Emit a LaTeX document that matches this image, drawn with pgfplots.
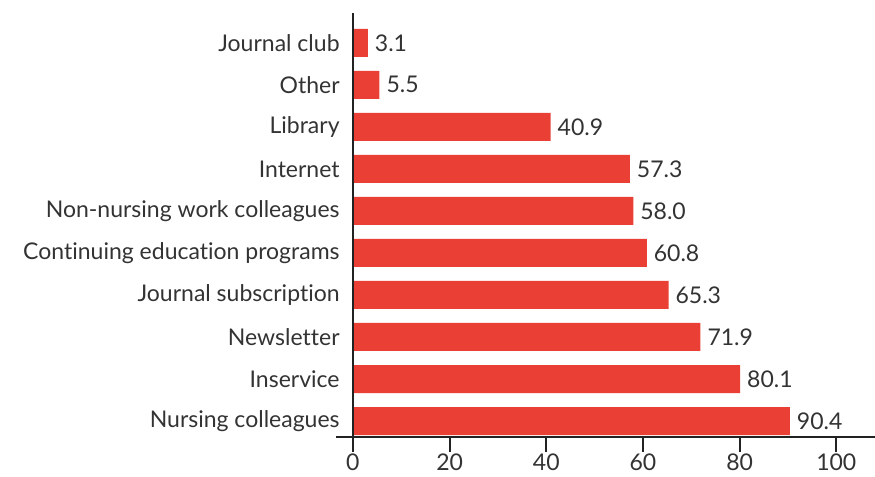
\documentclass[border=0pt]{standalone}
\usepackage{fontspec}
\setmainfont{Lato}[Ligatures=NoCommon]
\usepackage{pgfplots}
\pgfplotsset{compat=1.18}
\definecolor{barred}{HTML}{EA3F35}
\definecolor{txt}{HTML}{333333}
\definecolor{ax}{HTML}{222222}
\begin{document}
\begin{tikzpicture}
\begin{axis}[
    scale only axis,
    width=269.5pt, height=212pt,
    xbar, bar width=14pt,
    xmin=-3.5, xmax=108,
    ymin=-0.38, ymax=9.71,
    axis x line*=bottom,
    axis y line*=left,
    y axis line style={draw=none},
    x axis line style={ax, line width=1pt},
    xtick={0,20,40,60,80,100},
    ytick={0,...,9},
    yticklabels={Nursing colleagues, Inservice, Newsletter, Journal subscription,
        Continuing education programs, Non-nursing work colleagues, Internet,
        Library, Other, Journal club},
    tick align=outside,
    major tick length=7.5pt,
    ytick style={draw=none},
    xtick style={ax, line width=1pt},
    tick label style={font=\fontsize{11.5}{13}\selectfont, text=txt},
    yticklabel style={inner sep=0pt, xshift=9.5pt},
    xticklabel style={inner sep=1pt, yshift=0.5pt},
    /pgf/number format/assume math mode=true,
    nodes near coords,
    nodes near coords style={font=\fontsize{11.5}{13}\selectfont, text=txt,
        /pgf/number format/.cd, fixed, fixed zerofill, precision=1},
    clip=false,
]
\addplot[fill=barred, draw=none] coordinates {
    (90.4,0) (80.1,1) (71.9,2) (65.3,3) (60.8,4)
    (58.0,5) (57.3,6) (40.9,7) (5.5,8) (3.1,9)
};
\draw[ax, line width=1pt] (axis cs:0,-0.38) -- (axis cs:0,9.71);
\coordinate (bl) at (rel axis cs:0,0);
\end{axis}
\pgfresetboundingbox
\path (bl) ++(-168pt,-20pt) rectangle ++(437.5pt,238.5pt);
\end{tikzpicture}
\end{document}
